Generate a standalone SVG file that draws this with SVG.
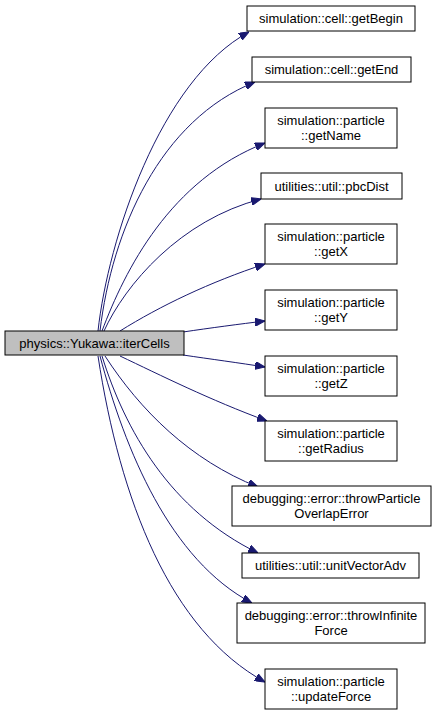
<svg xmlns="http://www.w3.org/2000/svg" width="436" height="715" viewBox="0 0 436 715">
<style>
.n rect{fill:#ffffff;stroke:#000000;stroke-width:1}
#main rect{fill:#bfbfbf}
text{font-family:"Liberation Sans",Arial,sans-serif;font-size:13px;fill:#000000;text-anchor:middle}
#edges path{fill:none;stroke:#191970;stroke-width:1;marker-end:url(#arr)}
</style>
<defs>
<marker id="arr" markerWidth="10" markerHeight="8" refX="10" refY="4" orient="auto" markerUnits="userSpaceOnUse">
<path d="M0,0 L10,4 L0,8 z" fill="#191970" stroke="#191970" stroke-width="1"/>
</marker>
</defs>
<rect width="436" height="715" fill="#ffffff"/>
<g id="edges">
<path d="M98,331 C108,240 160,80 249,32"/>
<path d="M100,331 C112,230 160,120 255,82"/>
<path d="M102,331 C125,270 170,180 265,143"/>
<path d="M104,331 C125,285 180,220 261,199"/>
<path d="M120,331 C160,306 210,282 265,264"/>
<path d="M183,332 C210,328 240,324 265,321"/>
<path d="M183,355 C210,359 240,363 265,367"/>
<path d="M120,356 C160,375 210,400 267,421"/>
<path d="M105,356 C140,410 190,460 258,487"/>
<path d="M102,356 C125,430 170,510 258,553"/>
<path d="M100,356 C125,450 170,560 252,603"/>
<path d="M98,356 C120,500 170,630 265,682"/>
</g>
<g id="main" class="n"><rect x="5" y="331" width="179" height="24"/><text x="94.5" y="347.5">physics::Yukawa::iterCells</text></g>
<g id="getBegin" class="n"><rect x="247" y="6" width="168" height="25"/><text x="331" y="23">simulation::cell::getBegin</text></g>
<g id="getEnd" class="n"><rect x="252" y="57" width="159" height="25"/><text x="331.5" y="74">simulation::cell::getEnd</text></g>
<g id="getName" class="n"><rect x="265" y="108" width="132" height="40"/><text x="331" y="124.5">simulation::particle</text><text x="331" y="139.5">::getName</text></g>
<g id="pbcDist" class="n"><rect x="261" y="173" width="141" height="26"/><text x="331.5" y="190.5">utilities::util::pbcDist</text></g>
<g id="getX" class="n"><rect x="265" y="224" width="132" height="40"/><text x="331" y="240.5">simulation::particle</text><text x="331" y="255.5">::getX</text></g>
<g id="getY" class="n"><rect x="265" y="290" width="132" height="40"/><text x="331" y="306.5">simulation::particle</text><text x="331" y="321.5">::getY</text></g>
<g id="getZ" class="n"><rect x="265" y="356" width="132" height="40"/><text x="331" y="372.5">simulation::particle</text><text x="331" y="387.5">::getZ</text></g>
<g id="getRadius" class="n"><rect x="265" y="421" width="132" height="40"/><text x="331" y="437.5">simulation::particle</text><text x="331" y="452.5">::getRadius</text></g>
<g id="throwOverlap" class="n"><rect x="232" y="486" width="199" height="40"/><text x="331.5" y="502.5">debugging::error::throwParticle</text><text x="331.5" y="517.5">OverlapError</text></g>
<g id="unitVectorAdv" class="n"><rect x="242" y="553" width="177" height="25"/><text x="330.5" y="570">utilities::util::unitVectorAdv</text></g>
<g id="throwInfinite" class="n"><rect x="237" y="603" width="188" height="40"/><text x="331" y="619.5">debugging::error::throwInfinite</text><text x="331" y="634.5">Force</text></g>
<g id="updateForce" class="n"><rect x="265" y="669" width="132" height="40"/><text x="331" y="685.5">simulation::particle</text><text x="331" y="700.5">::updateForce</text></g>
</svg>
